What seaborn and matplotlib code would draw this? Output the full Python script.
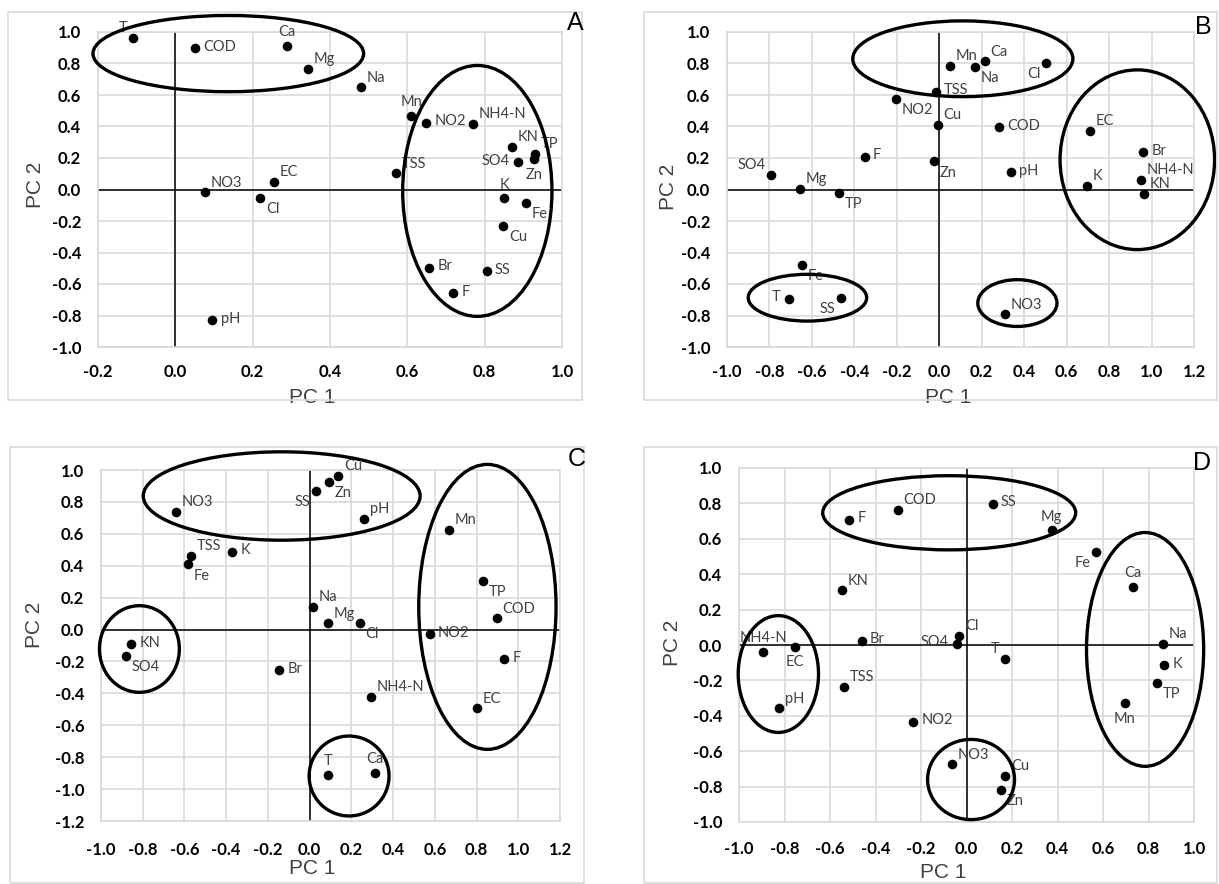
import matplotlib
matplotlib.use('Agg')
import matplotlib.pyplot as plt
from matplotlib.patches import Ellipse, Rectangle
import numpy as np
import pandas as pd
import seaborn as sns

# ---- Panel A ----
a_names = ['T', 'COD', 'Ca', 'Mg', 'Na', 'Mn', 'NO2', 'NH4-N', 'KN', 'TP', 'Zn', 'SO4',
           'TSS', 'EC', 'NO3', 'Cl', 'K', 'Fe', 'Cu', 'Br', 'SS', 'F', 'pH']
a_pc1 = [-0.110, 0.051, 0.288, 0.343, 0.481, 0.610, 0.648, 0.771, 0.870, 0.930, 0.927, 0.886,
         0.571, 0.256, 0.076, 0.220, 0.850, 0.907, 0.848, 0.656, 0.805, 0.718, 0.096]
a_pc2 = [0.961, 0.897, 0.914, 0.766, 0.649, 0.467, 0.424, 0.418, 0.271, 0.227, 0.191, 0.174,
         0.102, 0.049, -0.019, -0.055, -0.057, -0.085, -0.229, -0.496, -0.517, -0.660, -0.831]
a_pos = ['al', 'r', 'a', 'ar', 'ar', 'a', 'r', 'ar', 'ar', 'ar', 'b', 'l',
         'ar', 'ar', 'ar', 'br', 'a', 'br', 'br', 'r', 'r', 'r', 'r']
a_groups = [(0.137, 0.863, 0.700, 0.484), (0.781, -0.009, 0.386, 1.593)]

# ---- Panel B ----
b_names = ['Mn', 'Ca', 'Na', 'Cl', 'TSS', 'NO2', 'Cu', 'COD', 'EC', 'F', 'SO4', 'Br',
           'Zn', 'pH', 'Mg', 'TP', 'K', 'NH4-N', 'KN', 'Fe', 'T', 'SS', 'NO3']
b_pc1 = [0.050, 0.214, 0.167, 0.504, -0.016, -0.204, -0.007, 0.282, 0.712, -0.352, -0.791, 0.960,
         -0.025, 0.337, -0.656, -0.473, 0.695, 0.949, 0.964, -0.645, -0.709, -0.462, 0.311]
b_pc2 = [0.785, 0.814, 0.776, 0.802, 0.621, 0.577, 0.411, 0.394, 0.373, 0.208, 0.093, 0.238,
         0.178, 0.110, 0.004, -0.021, 0.025, 0.059, -0.030, -0.477, -0.694, -0.687, -0.793]
b_pos = ['ar', 'ar', 'br', 'bl', 'r', 'br', 'ar', 'r', 'ar', 'r', 'al', 'r',
         'br', 'r', 'ar', 'br', 'ar', 'ar', 'ar', 'br', 'l', 'bl', 'ar']
b_groups = [(0.111, 0.830, 1.037, 0.481), (0.933, 0.189, 0.728, 1.141),
            (-0.621, -0.687, 0.558, 0.297), (0.368, -0.721, 0.373, 0.297)]

# ---- Panel C ----
c_names = ['Cu', 'Zn', 'SS', 'NO3', 'pH', 'Mn', 'TSS', 'K', 'Fe', 'TP', 'Na', 'COD',
           'Mg', 'Cl', 'NO2', 'KN', 'SO4', 'F', 'Br', 'NH4-N', 'EC', 'T', 'Ca']
c_pc1 = [0.137, 0.092, 0.030, -0.641, 0.261, 0.668, -0.568, -0.371, -0.581, 0.832, 0.016, 0.898,
         0.089, 0.241, 0.575, -0.855, -0.882, 0.931, -0.146, 0.296, 0.804, 0.089, 0.313]
c_pc2 = [0.962, 0.925, 0.868, 0.736, 0.693, 0.627, 0.460, 0.487, 0.408, 0.306, 0.143, 0.070,
         0.039, 0.039, -0.028, -0.093, -0.166, -0.185, -0.256, -0.421, -0.494, -0.912, -0.897]
c_pos = ['ar', 'br', 'bl', 'ar', 'ar', 'ar', 'ar', 'r', 'br', 'br', 'ar', 'ar',
         'ar', 'br', 'r', 'r', 'br', 'r', 'r', 'ar', 'ar', 'a', 'a']
c_groups = [(-0.134, 0.837, 1.327, 0.554), (0.852, 0.142, 0.658, 1.786),
            (-0.816, -0.122, 0.383, 0.543), (0.189, -0.918, 0.383, 0.501)]

# ---- Panel D ----
d_names = ['SS', 'COD', 'F', 'Mg', 'Fe', 'Ca', 'KN', 'Cl', 'NH4-N', 'EC', 'Br', 'SO4',
           'T', 'Na', 'K', 'TSS', 'TP', 'pH', 'Mn', 'NO2', 'NO3', 'Cu', 'Zn']
d_pc1 = [0.115, -0.301, -0.516, 0.374, 0.569, 0.732, -0.547, -0.032, -0.894, -0.754, -0.461, -0.042,
         0.170, 0.865, 0.869, -0.538, 0.838, -0.824, 0.695, -0.236, -0.062, 0.171, 0.151]
d_pc2 = [0.798, 0.764, 0.708, 0.647, 0.528, 0.330, 0.308, 0.051, -0.042, -0.009, 0.025, 0.008,
         -0.077, 0.008, -0.113, -0.236, -0.213, -0.358, -0.330, -0.434, -0.674, -0.740, -0.821]
d_pos = ['r', 'ar', 'r', 'a', 'bl', 'a', 'ar', 'ar', 'a', 'b', 'r', 'l',
         'al', 'ar', 'r', 'ar', 'br', 'ar', 'b', 'r', 'ar', 'ar', 'br']
d_groups = [(-0.076, 0.747, 1.112, 0.419), (-0.827, -0.164, 0.353, 0.660),
            (0.785, -0.025, 0.515, 1.321), (0.020, -0.760, 0.382, 0.453)]

sns.set_theme(style='whitegrid')
plt.rcParams['font.family'] = ['Lato', 'DejaVu Sans']
plt.rcParams['axes.unicode_minus'] = False

offsets = {'r': (6, 1, 'left', 'center'), 'l': (-6, 1, 'right', 'center'),
           'a': (0, 5, 'center', 'bottom'), 'b': (0, -6, 'center', 'top'),
           'ar': (4, 2, 'left', 'bottom'), 'al': (-4, 2, 'right', 'bottom'),
           'br': (4, -3, 'left', 'top'), 'bl': (-4, -3, 'right', 'top')}

fig = plt.figure(figsize=(12.19, 8.84), dpi=100)

# chart-area borders
for (x0, y0, x1, y1) in [(8, 12, 582, 400), (644, 12, 1217, 400),
                         (10, 447, 584, 883), (644, 447, 1217, 883)]:
    fig.patches.append(Rectangle((x0 / 1219, 1 - y1 / 884), (x1 - x0) / 1219, (y1 - y0) / 884,
                                 transform=fig.transFigure, fill=False,
                                 ec='#d9d9d9', lw=1.2))


def draw_panel(rect, names, pc1, pc2, pos, groups, xlim, ylim, letter, letter_xy,
               xlab_xy, ylab_xy, xpad):
    ax = fig.add_axes(rect)
    df = pd.DataFrame({'PC 1': pc1, 'PC 2': pc2, 'name': names})
    ax.axhline(0, color='black', lw=1.1, zorder=1.5)
    ax.axvline(0, color='black', lw=1.1, zorder=1.5)
    sns.scatterplot(data=df, x='PC 1', y='PC 2', ax=ax, color='black', s=48,
                    edgecolor='black', linewidth=0, zorder=3, clip_on=False)
    for n, x, y, p in zip(names, pc1, pc2, pos):
        dx, dy, ha, va = offsets[p]
        ax.annotate(n, (x, y), xytext=(dx, dy), textcoords='offset points',
                    ha=ha, va=va, fontsize=10.5, color='#404040')
    for cx, cy, w, h in groups:
        ax.add_patch(Ellipse((cx, cy), w, h, fill=False, ec='black', lw=2.4,
                             clip_on=False, zorder=4))
    ax.set_xlim(*xlim)
    ax.set_ylim(*ylim)
    ax.set_xticks(np.round(np.arange(xlim[0], xlim[1] + 0.01, 0.2), 1) + 0.0)
    ax.set_yticks(np.round(np.arange(ylim[0], ylim[1] + 0.01, 0.2), 1) + 0.0)
    fmt = matplotlib.ticker.FuncFormatter(lambda v, p: '%.1f' % (0.0 if abs(v) < 1e-9 else v))
    ax.xaxis.set_major_formatter(fmt)
    ax.yaxis.set_major_formatter(fmt)
    ax.grid(True, color='#d9d9d9', lw=1.2)
    ax.set_axisbelow(True)
    for s in ax.spines.values():
        s.set_color('#d9d9d9')
        s.set_linewidth(1.2)
    ax.tick_params(length=0, labelsize=12, labelcolor='black')
    ax.tick_params(axis='y', pad=12)
    ax.tick_params(axis='x', pad=xpad)
    for t in ax.get_xticklabels() + ax.get_yticklabels():
        t.set_fontweight('bold')
    ax.set_xlabel('PC 1', fontsize=15, color='#404040', family=['Liberation Sans'])
    ax.set_ylabel('PC 2', fontsize=15, color='#404040', family=['Liberation Sans'])
    # label positions given in pixels
    l, b, w, h = rect
    ax.xaxis.set_label_coords((xlab_xy[0] / 1219 - l) / w, ((1 - xlab_xy[1] / 884) - b) / h)
    ax.yaxis.set_label_coords((ylab_xy[0] / 1219 - l) / w, ((1 - ylab_xy[1] / 884) - b) / h)
    ax.xaxis.label.set_va('center')
    ax.yaxis.label.set_va('center')
    fig.text(letter_xy[0] / 1219, 1 - letter_xy[1] / 884, letter, fontsize=18,
             family=['Liberation Sans'], ha='center', va='center', color='black')
    return ax


draw_panel([98 / 1219, 1 - 347 / 884, 464 / 1219, 315 / 884], a_names, a_pc1, a_pc2, a_pos,
           a_groups, (-0.2, 1.0), (-1.0, 1.0), 'A', (575, 23), (312, 397), (36, 185), 12)
draw_panel([727 / 1219, 1 - 347 / 884, 467 / 1219, 315 / 884], b_names, b_pc1, b_pc2, b_pos,
           b_groups, (-1.0, 1.2), (-1.0, 1.0), 'B', (1203, 27), (948, 397), (668, 187), 12)
draw_panel([101 / 1219, 1 - 821 / 884, 459 / 1219, 351 / 884], c_names, c_pc1, c_pc2, c_pos,
           c_groups, (-1.0, 1.2), (-1.2, 1.0), 'C', (577, 459), (312, 868), (35, 625), 15)
draw_panel([739 / 1219, 1 - 822 / 884, 455 / 1219, 354 / 884], d_names, d_pc1, d_pc2, d_pos,
           d_groups, (-1.0, 1.0), (-1.0, 1.0), 'D', (1202, 463), (943, 873), (673, 643), 14)

fig.savefig('out.png', dpi=100, facecolor='white')
